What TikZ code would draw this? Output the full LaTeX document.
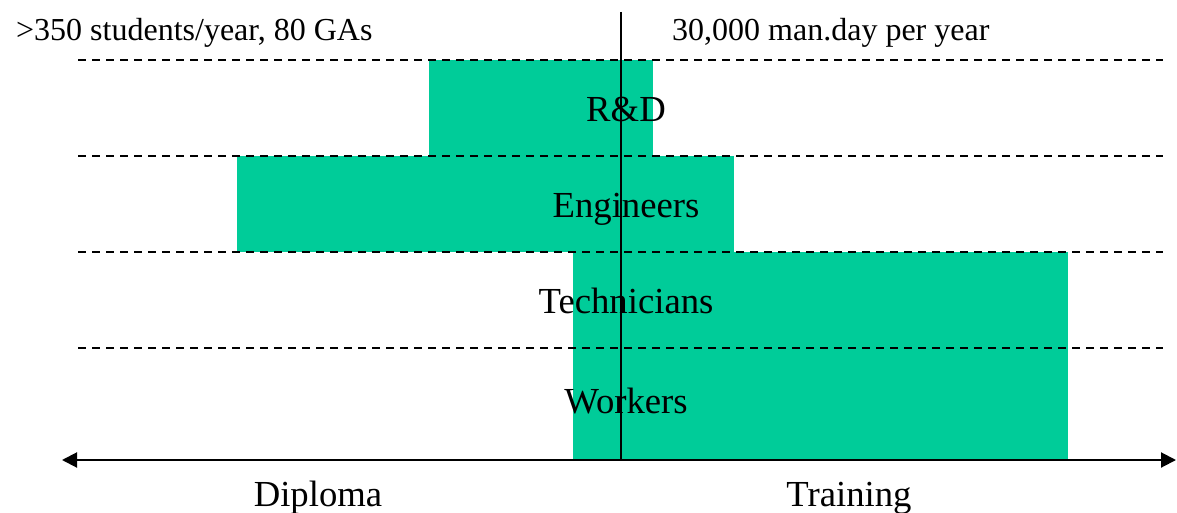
\documentclass[tikz,border=0pt]{standalone}
\usepackage{fontspec}
\setmainfont{Liberation Serif}
\usetikzlibrary{arrows.meta}
\definecolor{bargreen}{RGB}{0,204,153}
\begin{document}
\begin{tikzpicture}[x=1pt,y=-1pt,
  bar/.style={fill=bargreen,draw=none},
  guide/.style={line width=1.6pt,dash pattern=on 8pt off 6pt},
  axis/.style={line width=2pt},
  lbl/.style={inner sep=0pt,anchor=base,font=\fontsize{36.7}{44}\selectfont},
  toplbl/.style={inner sep=0pt,anchor=base west,font=\fontsize{32}{38}\selectfont}]
\useasboundingbox (0,0) rectangle (1177,513);
% bars
\fill[bar] (429,60) rectangle (653,156);
\fill[bar] (237,156) rectangle (734,252);
\fill[bar] (573,252) rectangle (1068,460);
% dashed guides
\foreach \yy in {60,156,252,348}
  \draw[guide] (78,\yy) -- (1163,\yy);
% vertical axis
\coordinate (vtop) at (621,12);
\coordinate (vbot) at (621,460);
\draw[axis] (vtop) -- (vbot);
% horizontal axis
\coordinate (hl) at (62,460);
\coordinate (hr) at (1176,460);
\draw[axis,{Triangle[length=15pt,width=15pt]}-{Triangle[length=15pt,width=15pt]}] (hl) -- (hr);
% labels
\node[toplbl] (students) at (16,41) {>350 students/year, 80 GAs};
\node[toplbl] (manday) at (672,41) {30,000 man.day per year};
\node[lbl] (rd) at (626,122) {R\&D};
\node[lbl] (eng) at (626,218) {Engineers};
\node[lbl] (tech) at (626,313) {Technicians};
\node[lbl] (work) at (626,413) {Workers};
\node[lbl] (dip) at (318,506) {Diploma};
\node[lbl] (train) at (849,506) {Training};
\end{tikzpicture}
\end{document}
